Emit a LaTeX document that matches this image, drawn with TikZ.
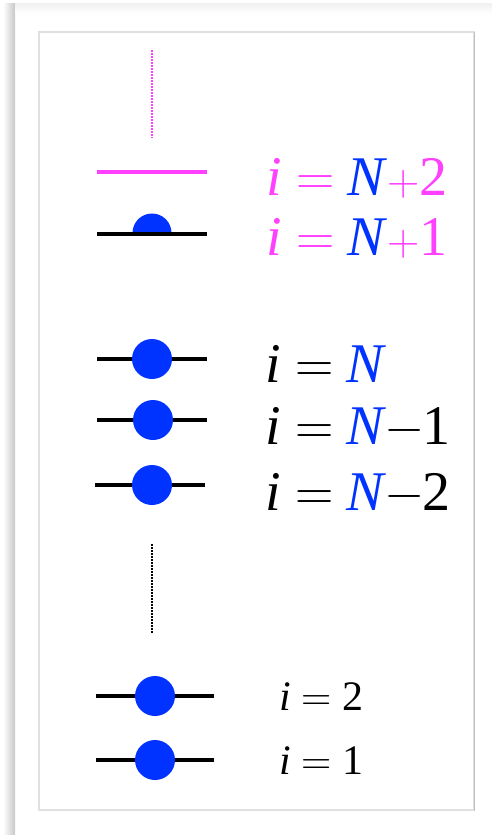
\documentclass[tikz,border=0pt]{standalone}
\usepackage{fontspec}
\newfontfamily\tms{Liberation Serif}
\definecolor{mag}{RGB}{255,64,255}
\definecolor{dblue}{RGB}{0,51,255}
\definecolor{frameline}{RGB}{224,224,224}
\newcommand{\bigsz}{\tms\fontsize{56}{60}\selectfont}
\newcommand{\smallsz}{\tms\fontsize{42}{46}\selectfont}
\newcommand{\eqs}{\hspace{0.27em}{\rmfamily\scalebox{0.95}[1]{=}}\hspace{0.22em}}
\newcommand{\eqsm}{\hspace{0.25em}{\rmfamily =}\hspace{0.25em}}
\newcommand{\mns}{{\rmfamily\scalebox{0.9}[1]{−}}}
\newcommand{\pls}{{\rmfamily\scalebox{0.8}{+}}}
\begin{document}
\begin{tikzpicture}[x=1pt,y=-1pt,
  level/.style={line width=4pt,black},
  maglevel/.style={line width=3.5pt,mag},
  ball/.style={circle,fill=dblue,inner sep=0pt,minimum size=40pt},
  dotline/.style={line width=2pt,dash pattern=on 1.5pt off 1.5pt},
  lab/.style={anchor=base west,inner sep=0pt,font=\bigsz},
  slab/.style={anchor=base west,inner sep=0pt,font=\smallsz}]
\useasboundingbox (0,0) rectangle (495,835);
% frame shadows
\shade[left color=white,right color=black!22] (3,3) rectangle (15,835);
\shade[top color=black!6,bottom color=white] (15,3) rectangle (492,13);
\draw[frameline,line width=1.5pt] (39,32) rectangle (474,810);
\draw[black!25,line width=1pt] (474.5,32) -- (474.5,810.5);
% top dotted (magenta)
\coordinate (mt) at (151.5,50);
\coordinate (mb) at (151.5,138);
\draw[dotline,mag] (mt) -- (mb);
% i = N+2 level
\coordinate (a1) at (97,172);
\coordinate (a2) at (207,172);
\draw[maglevel] (a1) -- (a2);
% i = N+1 level with half ball
\coordinate (b1) at (97,234);
\coordinate (b2) at (207,234);
\fill[dblue] (132.5,233) arc[start angle=180,end angle=360,radius=19.5] -- cycle;
\draw[level] (b1) -- (b2);
% middle levels
\coordinate (c1) at (97,359); \coordinate (c2) at (207,359);
\draw[level] (c1) -- (c2);
\node[ball] (cb) at (152,359) {};
\coordinate (d1) at (97,420); \coordinate (d2) at (207,420);
\draw[level] (d1) -- (d2);
\node[ball] (db) at (153,420) {};
\coordinate (e1) at (95,485); \coordinate (e2) at (205,485);
\draw[level] (e1) -- (e2);
\node[ball] (eb) at (152,485) {};
% black dotted
\coordinate (kt) at (152,544);
\coordinate (kb) at (152,633);
\draw[dotline,black] (kt) -- (kb);
% bottom levels
\coordinate (f1) at (96,696); \coordinate (f2) at (214,696);
\draw[level] (f1) -- (f2);
\node[ball] (fb) at (155,696) {};
\coordinate (g1) at (96,760); \coordinate (g2) at (214,760);
\draw[level] (g1) -- (g2);
\node[ball] (gb) at (155,760) {};
% labels
\node[lab,text=mag] (l1) at (266,195) {\textit{i}\eqs\textcolor{dblue}{\textit{N}}\pls2};
\node[lab,text=mag] (l2) at (266,255) {\textit{i}\eqs\textcolor{dblue}{\textit{N}}\pls1};
\node[lab] (l3) at (265,382) {\textit{i}\eqs\textcolor{dblue}{\textit{N}}};
\node[lab] (l4) at (265,444) {\textit{i}\eqs\textcolor{dblue}{\textit{N}}\mns1};
\node[lab] (l5) at (265,510) {\textit{i}\eqs\textcolor{dblue}{\textit{N}}\mns2};
\node[slab] (l6) at (279,710) {\textit{i}\eqsm2};
\node[slab] (l7) at (279,774) {\textit{i}\eqsm1};
\end{tikzpicture}
\end{document}
